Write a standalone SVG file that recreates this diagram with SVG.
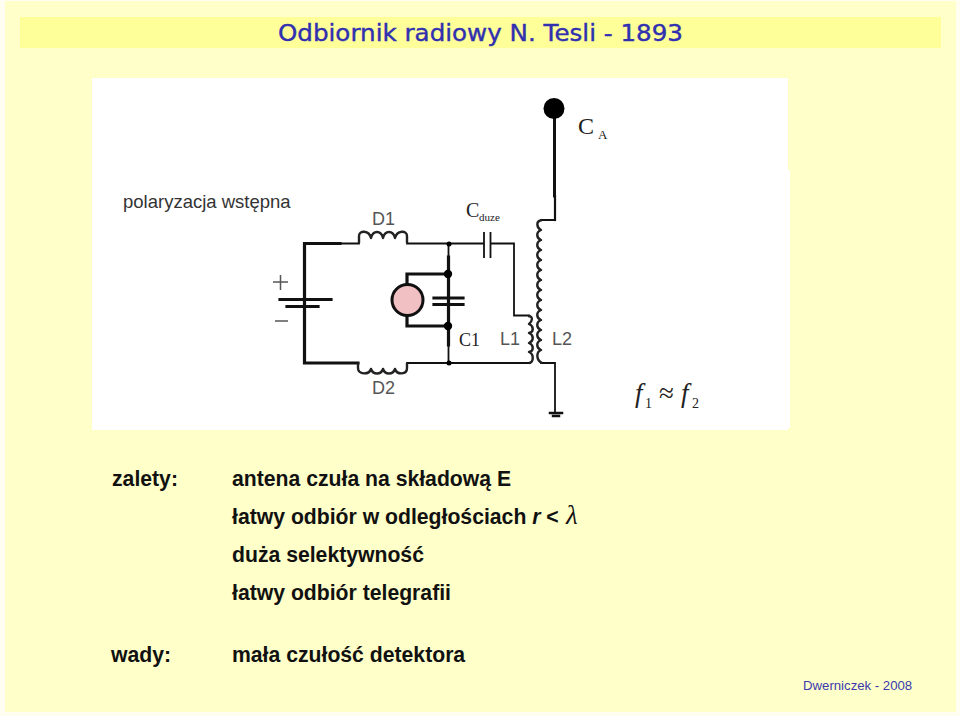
<svg xmlns="http://www.w3.org/2000/svg" width="960" height="716" viewBox="0 0 960 716">
<style>
.s{font-family:"Liberation Sans",Arial,sans-serif}
.r{font-family:"Liberation Serif","Times New Roman",serif;fill:#222}
.b{font-family:"Liberation Sans",Arial,sans-serif;font-weight:bold;font-size:21.200px;fill:#111}
.g{font-family:"Liberation Sans",Arial,sans-serif;font-size:18px;fill:#555}
.w{fill:none;stroke:#111;stroke-linecap:square}
.t{stroke-width:1.800}
.k{stroke-width:3.200}
.c{fill:none;stroke:#222;stroke-width:2.400;stroke-linejoin:round}
</style>
<rect width="960" height="716" fill="#fffef0"/>
<rect x="5" y="1" width="951" height="711" fill="#ffffc9"/>
<rect x="20" y="17" width="921" height="31" fill="#ffff99"/>
<rect x="92" y="78" width="696" height="352" fill="#ffffff"/>
<rect x="786" y="170" width="4" height="258" fill="#ffffff"/>
<text id="title" x="278" y="41" font-family="DejaVu Sans, sans-serif" font-size="23" fill="#3030b0" stroke="#3030b0" stroke-width="0.400" textLength="405" lengthAdjust="spacingAndGlyphs">Odbiornik radiowy N. Tesli - 1893</text>
<g id="connectors">
<path class="w k" d="M340 243.500H304.500V363H358M407 274V285M407 315V326M407 274H448M407 326H448M448.500 257V345M280 299.500H331M287 306.500H318"/>
<path class="w k" d="M434 298H463M434 304.500H463"/>
<path class="w t" d="M340 243.500H359M407 243.500H484M490.500 243.500H514V315.500H529M407 363H530M448.500 243.500V258M448.500 345V363M484 233V257M490.500 233V257M541 363H555V412M541 220H555"/>
<path class="w" stroke-width="3" d="M554.500 110V196"/>
<path class="w" stroke-width="2.200" d="M555 196V220"/>
<path class="w" stroke-width="2.500" d="M550 413H562M553 416H559"/>
</g>
<g id="antenna"><circle cx="554" cy="108.500" r="10.500" fill="#000"/></g>
<g id="ca"><text class="r" x="578" y="134" font-size="24">C</text><text class="r" x="598" y="139" font-size="13">A</text></g>
<g id="pol"><text class="s" x="123" y="208" font-size="18.500" fill="#333">polaryzacja wstępna</text></g>
<g id="cduze"><text class="r" x="466" y="217" font-size="20">C</text><text class="r" x="479" y="221" font-size="11">duze</text></g>
<g id="battery"><path d="M273 282H288M280.500 275V290M275 321H288" fill="none" stroke="#555" stroke-width="1.500"/></g>
<g id="d1"><path class="c" d="M359 243V236C359 230 369 230 371 238C373 230 381 230 383 238C385 230 393 230 395 238C397 230 407 230 407 236V243"/>
<text class="g" x="372" y="225" font-size="17">D1</text></g>
<g id="d2"><path class="c" d="M358 363V368C358 375 369 375 371 369C373 375 381 375 383 369C385 375 393 375 395 369C397 375 407 375 407 368V363"/>
<text class="g" x="372" y="394" font-size="17">D2</text></g>
<g id="meter"><circle cx="407.500" cy="300" r="15.500" fill="#f0c0c2" stroke="#111" stroke-width="3"/></g>
<g id="nodes-dots"><circle cx="448" cy="274" r="4.200"/><circle cx="448" cy="326" r="4.200"/><circle cx="449" cy="244" r="2.500"/><circle cx="449" cy="363" r="2.500"/></g>
<g id="c1"><text class="r" x="459" y="346" font-size="18">C1</text></g>
<g id="l1"><path class="c" d="M528 316C534 316 532 322 529 324C534 326 534 332 529 333C534 335 534 341 529 343C534 345 534 351 529 352C534 354 534 362 529 363"/>
<text class="g" x="500" y="345">L1</text></g>
<g id="l2"><path class="c" d="M542 220C535 221 537 228 541 230C536 232 536 238 541 240C536 242 536 248 541 250C536 252 536 258 541 260C536 262 536 268 541 270C536 272 536 278 541 280C536 282 536 288 541 290C536 292 536 298 541 300C536 302 536 308 541 310C536 312 536 318 541 320C536 322 536 328 541 330C536 332 536 338 541 340C536 342 536 348 541 350C536 352 536 360 542 363"/>
<text class="g" x="552" y="345">L2</text></g>
<g id="f"><text class="r" x="635" y="402" font-size="27" font-style="italic">f</text><text class="r" x="645" y="408" font-size="14">1</text><text class="r" x="659" y="402" font-size="27">≈</text><text class="r" x="681" y="402" font-size="27" font-style="italic">f</text><text class="r" x="692" y="408" font-size="14">2</text></g>
<g id="text">
<text class="b" x="112" y="486">zalety:</text>
<text class="b" x="232" y="486">antena czuła na składową E</text>
<text class="b" x="232" y="524">łatwy odbiór w odległościach <tspan font-style="italic">r</tspan> &lt; <tspan x="566" font-family="Liberation Serif" font-style="italic" font-weight="normal" font-size="27">λ</tspan></text>
<text class="b" x="232" y="562">duża selektywność</text>
<text class="b" x="232" y="600">łatwy odbiór telegrafii</text>
<text class="b" x="111" y="662">wady:</text>
<text class="b" x="232" y="662">mała czułość detektora</text>
<text class="s" x="803" y="690" font-size="13.200" fill="#3a3ab0">Dwerniczek - 2008</text>
</g>
</svg>
